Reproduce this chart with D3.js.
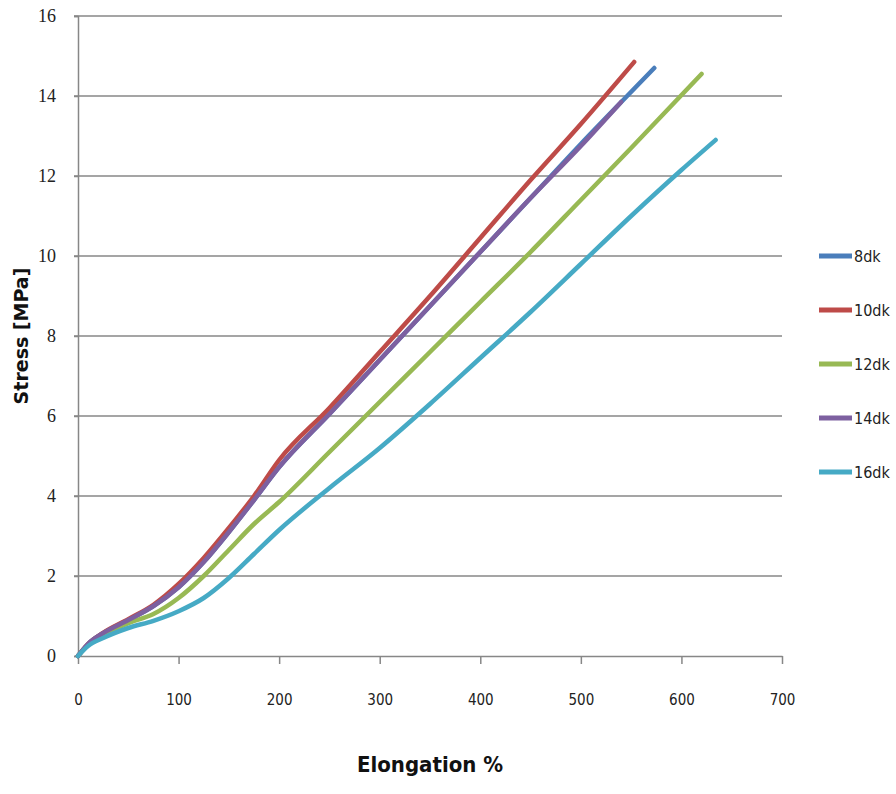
<!DOCTYPE html>
<html><head><meta charset="utf-8">
<script src="https://cdn.jsdelivr.net/npm/d3@7"></script>
<style>body{margin:0;background:#fff}</style>
</head><body>
<svg id="c" width="896" height="794"></svg>
<script>
const seriesNames = ["8dk", "10dk", "12dk", "14dk", "16dk"];
const seriesColors = ["#4A7EBB", "#BE4B48", "#98B954", "#7D60A0", "#46AAC5"];
const s8dk = [[0,0],[10,0.3],[25,0.57],[50,0.9],[75,1.25],[100,1.72],[125,2.35],[150,3.1],[175,3.9],[200,4.72],[250,6.05],[300,7.4],[350,8.75],[400,10.1],[450,11.45],[500,12.8],[546,14.0],[573,14.7]];
const s10dk = [[0,0],[10,0.3],[25,0.58],[50,0.92],[75,1.28],[100,1.8],[125,2.45],[150,3.2],[175,4.0],[200,4.9],[250,6.2],[300,7.6],[350,9.0],[400,10.45],[450,11.9],[500,13.3],[553,14.85]];
const s12dk = [[0,0],[10,0.28],[25,0.52],[50,0.82],[75,1.05],[100,1.45],[125,2.0],[150,2.65],[175,3.3],[200,3.85],[250,5.1],[300,6.35],[350,7.6],[400,8.85],[450,10.1],[500,11.4],[550,12.7],[620,14.55]];
const s14dk = [[0,0],[10,0.3],[25,0.57],[50,0.9],[75,1.25],[100,1.72],[125,2.35],[150,3.1],[175,3.9],[200,4.72],[250,6.05],[300,7.4],[350,8.75],[400,10.1],[450,11.45],[500,12.75],[540,13.85]];
const s16dk = [[0,0],[10,0.25],[25,0.45],[50,0.7],[75,0.88],[100,1.12],[125,1.45],[150,1.95],[175,2.55],[200,3.15],[250,4.2],[300,5.2],[350,6.3],[400,7.45],[450,8.6],[500,9.8],[550,11.0],[600,12.15],[634,12.9]];
const seriesData = [s8dk, s10dk, s12dk, s14dk, s16dk];
const xTicks = [0,100,200,300,400,500,600,700];
const yTicks = [0,2,4,6,8,10,12,14,16];

const svg = d3.select("#c");
const x = d3.scaleLinear().domain([0,700]).range([78,782]);
const y = d3.scaleLinear().domain([0,16]).range([656,16]);

svg.append("g").selectAll("line").data(yTicks.filter(d=>d>0)).join("line")
  .attr("x1",74).attr("x2",782).attr("y1",d=>y(d)).attr("y2",d=>y(d))
  .attr("stroke","#878787").attr("stroke-width",1.5);

const ya = svg.append("g").attr("transform","translate(78,0)")
  .call(d3.axisLeft(y).tickValues(yTicks).tickSize(4).tickPadding(18));
ya.select(".domain").attr("stroke","#878787").attr("stroke-width",1.5);
ya.selectAll(".tick line").attr("stroke","#878787").attr("stroke-width",1.5);
ya.selectAll("text").attr("font-family","'Liberation Serif', serif").attr("font-size",18).attr("fill","#222");

const xa = svg.append("g").attr("transform","translate(0,656)")
  .call(d3.axisBottom(x).tickValues(xTicks).tickSize(8).tickSizeOuter(0).tickPadding(30));
xa.select(".domain").attr("stroke","#878787").attr("stroke-width",1.5);
xa.selectAll(".tick line").attr("stroke","#878787").attr("stroke-width",1.5);
xa.selectAll("text").attr("font-family","'DejaVu Sans Condensed',sans-serif").attr("font-size",15).attr("fill","#222");

const line = d3.line().x(d=>x(d[0])).y(d=>y(d[1])).curve(d3.curveMonotoneX);
seriesData.forEach((s,i)=>{
  svg.append("path").datum(s).attr("d",line).attr("fill","none")
    .attr("stroke",seriesColors[i]).attr("stroke-width",4.5).attr("stroke-linecap","round");
});

const lg = svg.append("g");
seriesNames.forEach((n,i)=>{
  const yy = 256 + i*54;
  lg.append("line").attr("x1",819).attr("x2",852).attr("y1",yy).attr("y2",yy)
    .attr("stroke",seriesColors[i]).attr("stroke-width",5);
  lg.append("text").attr("x",854).attr("y",yy+6).text(n)
    .attr("font-family","'DejaVu Sans Condensed',sans-serif").attr("font-size",16).attr("fill","#222");
});

svg.append("text").attr("x",430).attr("y",772).attr("text-anchor","middle")
  .attr("font-family","'DejaVu Sans Condensed',sans-serif").attr("font-weight","bold")
  .attr("font-size",22).attr("fill","#111").text("Elongation %");
svg.append("text").attr("transform","translate(28,336) rotate(-90)").attr("text-anchor","middle")
  .attr("font-family","'DejaVu Sans',sans-serif").attr("font-weight","bold")
  .attr("font-size",19).attr("fill","#111").text("Stress [MPa]");
</script>
</body></html>
